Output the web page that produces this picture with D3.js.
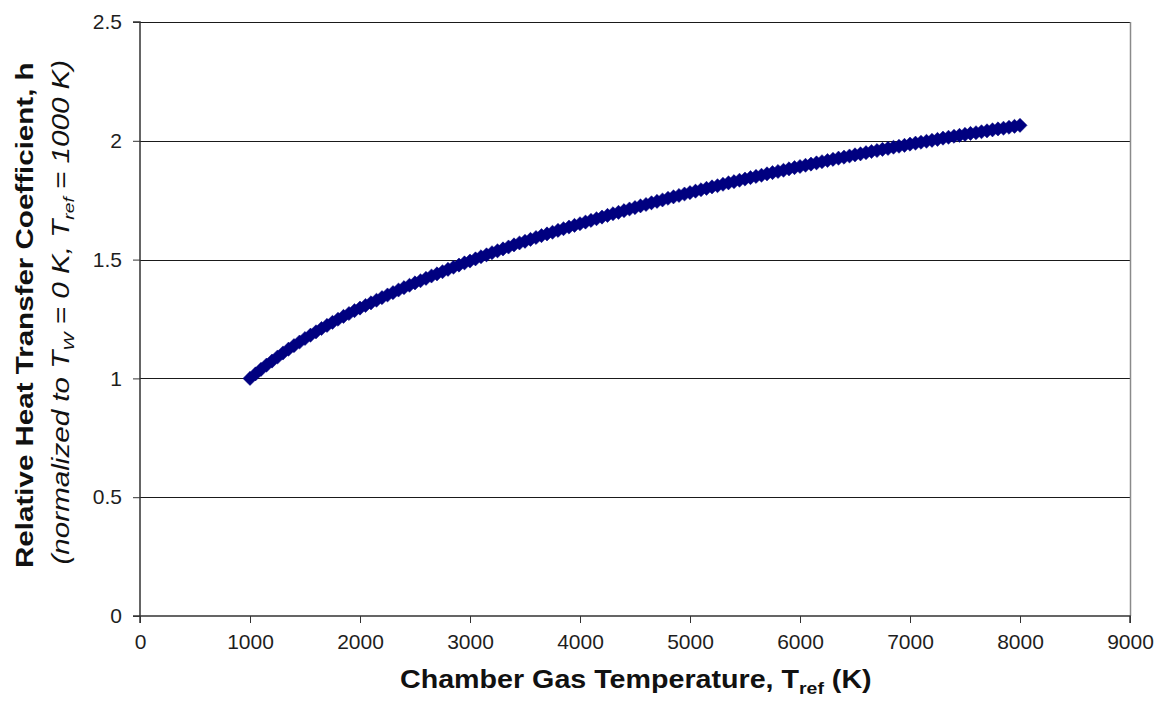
<!DOCTYPE html>
<html>
<head>
<meta charset="utf-8">
<script src="https://cdn.jsdelivr.net/npm/d3@7"></script>
<style>
  html, body { margin: 0; padding: 0; background: #fff; }
  svg { display: block; font-family: "Liberation Sans", Arial, sans-serif; }
</style>
</head>
<body>
<svg id="chart" width="1160" height="719"></svg>
<script>
// Chamber gas temperature (K)
const temperature = [
  1000,1050,1100,1150,1200,1250,1300,1350,1400,1450,
  1500,1550,1600,1650,1700,1750,1800,1850,1900,1950,
  2000,2050,2100,2150,2200,2250,2300,2350,2400,2450,
  2500,2550,2600,2650,2700,2750,2800,2850,2900,2950,
  3000,3050,3100,3150,3200,3250,3300,3350,3400,3450,
  3500,3550,3600,3650,3700,3750,3800,3850,3900,3950,
  4000,4050,4100,4150,4200,4250,4300,4350,4400,4450,
  4500,4550,4600,4650,4700,4750,4800,4850,4900,4950,
  5000,5050,5100,5150,5200,5250,5300,5350,5400,5450,
  5500,5550,5600,5650,5700,5750,5800,5850,5900,5950,
  6000,6050,6100,6150,6200,6250,6300,6350,6400,6450,
  6500,6550,6600,6650,6700,6750,6800,6850,6900,6950,
  7000,7050,7100,7150,7200,7250,7300,7350,7400,7450,
  7500,7550,7600,7650,7700,7750,7800,7850,7900,7950,
  8000
];

// Relative heat transfer coefficient h
const relativeH = [
  1.000,1.019,1.038,1.056,1.073,1.090,1.107,1.123,1.138,1.153,
  1.168,1.182,1.196,1.210,1.223,1.236,1.249,1.261,1.273,1.285,
  1.296,1.307,1.318,1.329,1.340,1.351,1.361,1.372,1.382,1.392,
  1.402,1.411,1.421,1.431,1.440,1.449,1.459,1.468,1.477,1.486,
  1.494,1.503,1.512,1.520,1.529,1.537,1.545,1.553,1.562,1.570,
  1.577,1.585,1.593,1.601,1.608,1.615,1.623,1.630,1.637,1.644,
  1.651,1.658,1.665,1.672,1.679,1.686,1.693,1.699,1.706,1.713,
  1.719,1.726,1.732,1.739,1.745,1.751,1.758,1.764,1.770,1.776,
  1.782,1.788,1.794,1.800,1.806,1.811,1.817,1.823,1.828,1.834,
  1.839,1.845,1.850,1.855,1.861,1.866,1.871,1.876,1.882,1.887,
  1.892,1.897,1.902,1.907,1.912,1.917,1.922,1.927,1.931,1.936,
  1.941,1.945,1.950,1.955,1.959,1.964,1.968,1.973,1.977,1.981,
  1.986,1.990,1.994,1.998,2.002,2.006,2.011,2.015,2.019,2.023,
  2.027,2.031,2.034,2.038,2.042,2.046,2.050,2.053,2.057,2.061,
  2.065
];

const xTicks = [0,1000,2000,3000,4000,5000,6000,7000,8000,9000];
const yTicks = [0,0.5,1,1.5,2,2.5];

const svg = d3.select("#chart");
const plot = { left: 140, right: 1130, top: 22, bottom: 616 };

const x = d3.scaleLinear().domain([0, 9000]).range([plot.left, plot.right]);
const y = d3.scaleLinear().domain([0, 2.5]).range([plot.bottom, plot.top]);

// Horizontal gridlines
svg.append("g")
  .selectAll("line")
  .data(yTicks.filter(d => d > 0))
  .join("line")
  .attr("x1", plot.left).attr("x2", plot.right)
  .attr("y1", d => Math.round(y(d)) + 0.5).attr("y2", d => Math.round(y(d)) + 0.5)
  .attr("stroke", "#1a1a1a").attr("stroke-width", 1.2);

// Right edge of the plot area
svg.append("line")
  .attr("x1", Math.round(x(9000)) + 0.5).attr("x2", Math.round(x(9000)) + 0.5)
  .attr("y1", plot.top).attr("y2", plot.bottom)
  .attr("stroke", "#8a8a8a").attr("stroke-width", 1.5);

// Axes
const xAxis = svg.append("g")
  .attr("transform", `translate(0,${plot.bottom})`)
  .call(d3.axisBottom(x).tickValues(xTicks).tickSize(7).tickPadding(11).tickFormat(d3.format("d")));
const yAxis = svg.append("g")
  .attr("transform", `translate(${plot.left},0)`)
  .call(d3.axisLeft(y).tickValues(yTicks).tickSize(7).tickPadding(11).tickFormat(d => String(d)));

[xAxis, yAxis].forEach(g => {
  g.select(".domain").attr("stroke", "#333").attr("stroke-width", 1.5);
  g.selectAll(".tick line").attr("stroke", "#333");
  g.selectAll(".tick text")
    .attr("fill", "#1e1e1e")
    .style("font-family", "'Liberation Sans', Arial, sans-serif")
    .style("font-size", "21px");
});
xAxis.select(".domain").attr("d", `M${plot.left},7V0H${plot.right}V7`);
yAxis.select(".domain").attr("d", `M-7,${plot.bottom}H0V${plot.top}H-7`);

// Diamond markers
const diamond = d3.symbol().type(d3.symbolSquare).size(100);
svg.append("g")
  .selectAll("path")
  .data(temperature.map((t, i) => ({ t, h: relativeH[i] })))
  .join("path")
  .attr("d", diamond)
  .attr("transform", d => `translate(${x(d.t)},${y(d.h)}) rotate(45)`)
  .attr("fill", "#000080")
  .attr("stroke", "#000080")
  .attr("stroke-width", 0.5);

// Stretch a title to a given span along its own direction, centred on (cx, cy)
function fitTitle(textSel, cx, cy, span, angle) {
  const w = textSel.node().getComputedTextLength();
  textSel.attr("transform",
    `translate(${cx},${cy}) rotate(${angle}) scale(${span / w},1) translate(${-w / 2},0)`);
}

// X axis title
const xTitle = svg.append("text")
  .style("font-size", "25px")
  .style("font-weight", "bold")
  .attr("fill", "#111");
xTitle.append("tspan").text("Chamber Gas Temperature, T");
xTitle.append("tspan").attr("dy", 6).style("font-size", "17px").text("ref");
xTitle.append("tspan").attr("dy", -6).text(" (K)");
fitTitle(xTitle, 636, 688, 472, 0);

// Y axis title (two lines)
const yTitle = svg.append("text")
  .style("font-size", "24px")
  .style("font-weight", "bold")
  .attr("fill", "#111")
  .text("Relative Heat Transfer Coefficient, h");
fitTitle(yTitle, 33, 315, 506, -90);

const ySub = svg.append("text")
  .style("font-size", "23px")
  .style("font-style", "italic")
  .attr("fill", "#111");
ySub.append("tspan").text("(normalized to T");
ySub.append("tspan").attr("dy", 5).style("font-size", "15px").text("W");
ySub.append("tspan").attr("dy", -5).text("  = 0 K,  T");
ySub.append("tspan").attr("dy", 5).style("font-size", "15px").text("ref");
ySub.append("tspan").attr("dy", -5).text(" = 1000 K)");
fitTitle(ySub, 69, 312, 505, -90);
</script>
</body>
</html>
